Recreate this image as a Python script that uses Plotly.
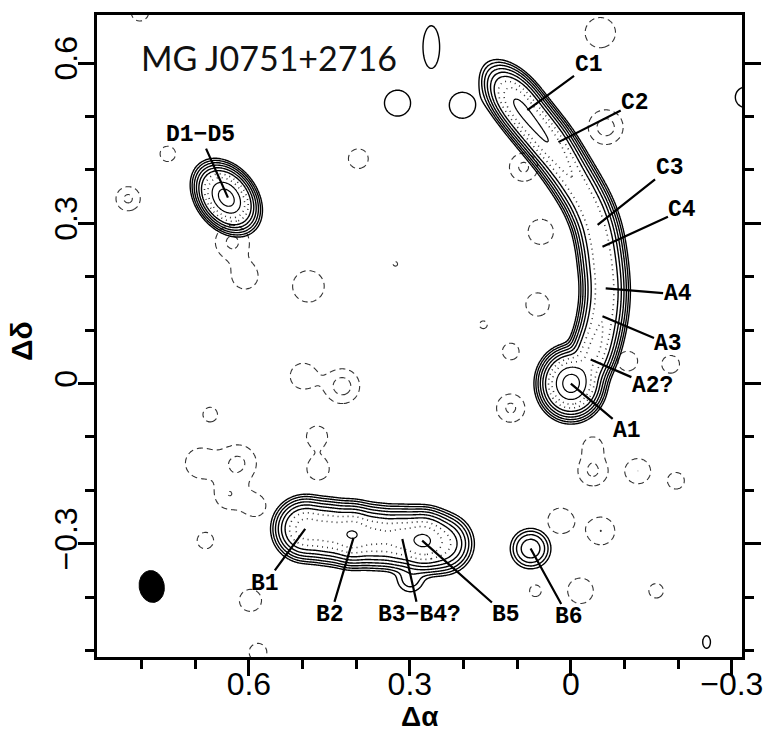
import numpy as np
import plotly.graph_objects as go

# ---------------- data ----------------
X_TICKS = [0.6, 0.3, 0.0, -0.3]
X_TICK_TEXT = ["0.6", "0.3", "0", "\u22120.3"]
Y_TICKS = [0.6, 0.3, 0.0, -0.3]
Y_TICK_TEXT = ["0.6", "0.3", "0", "\u22120.3"]
X_RANGE = [0.883, -0.319]
Y_RANGE = [-0.512, 0.690]

# arc A/C components (offset RA, offset Dec, peak)
ARC_X = [0.101, 0.072, 0.042, 0.014, -0.013, -0.037, -0.052, -0.059, -0.063, -0.059, -0.050, -0.037]
ARC_Y = [0.527, 0.489, 0.452, 0.411, 0.368, 0.322, 0.273, 0.224, 0.176, 0.129, 0.085, 0.047]
ARC_AMP = [230, 200, 185, 105, 82, 80, 80, 80, 80, 80, 85, 115]
ARC_S_ALONG = 0.028
ARC_S_PERP = 0.0155

# compact components: A1, D1-D5, B6
BLOB_X = [0.000, 0.642, 0.075]
BLOB_Y = [0.000, 0.348, -0.309]
BLOB_AMP = [700, 700, 14]
BLOB_SA = [0.019, 0.0225, 0.0165]
BLOB_SB = [0.021, 0.016, 0.0165]
BLOB_PA = [0, -53, 0]

# B arc components
BARC_X = [0.495, 0.452, 0.407, 0.362, 0.318, 0.275, 0.238, 0.299]
BARC_Y = [-0.272, -0.277, -0.283, -0.287, -0.290, -0.294, -0.300, -0.366]
BARC_AMP = [185, 160, 250, 130, 150, 275, 70, 3]
BARC_S = [0.020, 0.020, 0.020, 0.020, 0.020, 0.020, 0.020, 0.016]

# weak positive noise peaks
PN_X = [0.260, 0.323, 0.202, -0.326, -0.253]
PN_Y = [0.630, 0.525, 0.521, 0.536, -0.484]
PN_AMP = [1.6, 1.6, 1.6, 1.6, 1.5]
PN_SX = [0.016, 0.025, 0.025, 0.020, 0.008]
PN_SY = [0.041, 0.025, 0.025, 0.020, 0.013]

# negative noise peaks (depth)
NN_X = [0.825, 0.751, 0.396, 0.631, 0.607, 0.489, 0.327, 0.499, 0.426, 0.672, 0.691, 0.620,
        0.638, 0.473, 0.471, 0.681, 0.597, 0.583, 0.588, 0.803, 0.088, 0.056, -0.065, 0.062,
        0.163, 0.112, 0.112, -0.106, -0.186, -0.041, -0.041, -0.125, -0.196, 0.019, -0.056,
        -0.018, -0.159, 0.066, -0.055]
NN_Y = [0.346, 0.430, 0.421, 0.265, 0.201, 0.182, 0.224, 0.014, -0.005, -0.058, -0.149, -0.149,
        -0.210, -0.099, -0.160, -0.294, -0.406, -0.503, -0.229, 0.695, 0.405, 0.284, 0.480, 0.148,
        0.110, 0.060, -0.046, 0.042, 0.036, -0.117, -0.164, -0.164, -0.182, -0.257, -0.276,
        -0.388, -0.388, -0.388, 0.657]
NN_AMP = [2.2, 1.5, 1.8, 2.2, 1.8, 2.0, 1.2, 1.8, 2.5, 1.5, 1.8, 2.2,
          1.8, 1.6, 1.7, 1.5, 1.7, 1.6, 1.6, 1.5, 2.2, 2.0, 2.5, 1.8,
          1.3, 1.6, 2.2, 1.8, 1.6, 1.6, 2.2, 2.0, 1.6, 1.8, 2.0,
          1.8, 1.5, 1.5, 2.0]
NN_S = [0.018, 0.016, 0.017, 0.025, 0.022, 0.025, 0.007, 0.022, 0.024, 0.015, 0.025, 0.027,
        0.022, 0.020, 0.020, 0.017, 0.020, 0.017, 0.020, 0.018, 0.021, 0.020, 0.024, 0.020,
        0.010, 0.016, 0.021, 0.017, 0.017, 0.017, 0.022, 0.020, 0.016, 0.022, 0.022,
        0.022, 0.015, 0.012, 0.024]

# restoring beam: centre, semi-axes, position angle
BEAM_X, BEAM_Y = 0.781, -0.380
BEAM_A, BEAM_B, BEAM_PA = 0.0300, 0.0233, 100

# component labels: text, target (x, y), text position (x, y)
LABELS = ["C1", "C2", "C3", "C4", "A4", "A3", "A2?", "A1", "D1\u2212D5", "B1", "B2", "B3\u2212B4?", "B5", "B6"]
LAB_X = [0.081, 0.023, -0.050, -0.059, -0.065, -0.059, -0.037, 0.000, 0.639, 0.495, 0.405, 0.314, 0.277, 0.075]
LAB_Y = [0.512, 0.452, 0.297, 0.256, 0.178, 0.126, 0.045, 0.000, 0.348, -0.272, -0.289, -0.291, -0.294, -0.309]
LAB_TX = [-0.033, -0.120, -0.184, -0.208, -0.199, -0.182, -0.152, -0.105, 0.691, 0.570, 0.448, 0.282, 0.120, 0.004]
LAB_TY = [0.596, 0.525, 0.404, 0.325, 0.167, 0.074, -0.005, -0.089, 0.465, -0.375, -0.434, -0.434, -0.434, -0.438]

TITLE = "MG J0751+2716"

# ---------------- model image ----------------
xs = np.linspace(-0.33, 0.90, 620)
ys = np.linspace(-0.53, 0.71, 620)
X, Y = np.meshgrid(xs, ys)


def gauss(x0, y0, amp, sa, sb, pa_deg):
    u = -(X - x0)
    v = Y - y0
    t = np.deg2rad(pa_deg)
    a = u * np.cos(t) + v * np.sin(t)
    b = -u * np.sin(t) + v * np.cos(t)
    return amp * np.exp(-0.5 * (a ** 2 / sa ** 2 + b ** 2 / sb ** 2))


pos = np.zeros_like(X)
ax_ = np.array(ARC_X)
ay_ = np.array(ARC_Y)
arc_pa = np.degrees(np.arctan2(np.gradient(ay_), -np.gradient(ax_)))
for x0, y0, a0, pa in zip(ARC_X, ARC_Y, ARC_AMP, arc_pa):
    pos += gauss(x0, y0, a0, ARC_S_ALONG, ARC_S_PERP, pa)
for x0, y0, a0, sa, sb, pa in zip(BLOB_X, BLOB_Y, BLOB_AMP, BLOB_SA, BLOB_SB, BLOB_PA):
    pos += gauss(x0, y0, a0, sa, sb, pa)
for x0, y0, a0, s in zip(BARC_X, BARC_Y, BARC_AMP, BARC_S):
    pos += gauss(x0, y0, a0, s, s, 0)
for x0, y0, a0, sx, sy in zip(PN_X, PN_Y, PN_AMP, PN_SX, PN_SY):
    pos += gauss(x0, y0, a0, sx, sy, 0)

neg = np.zeros_like(X)
for x0, y0, a0, s in zip(NN_X, NN_Y, NN_AMP, NN_S):
    neg += gauss(x0, y0, a0, s, s, 0)

zpos = np.log2(np.maximum(pos, 1e-6))
zneg = np.log2(np.maximum(neg, 1e-6))

fig = go.Figure()


def contour(z, start, end, dash, width, color):
    fig.add_trace(go.Contour(
        x=xs, y=ys, z=z, autocontour=False,
        contours=dict(start=start, end=end, size=1, coloring="none"),
        line=dict(color=color, width=width, dash=dash, smoothing=1.0),
        showscale=False, hoverinfo="skip", showlegend=False))


contour(zneg, 0, 2, "6px,4px", 1.1, "#333333")
contour(zpos, 0, 5, "solid", 1.4, "black")
contour(zpos, 6, 7, "1px,4px", 1.6, "#333333")
contour(zpos, 8, 12, "solid", 1.2, "black")

# beam
t = np.linspace(0, 2 * np.pi, 80)
pa = np.deg2rad(BEAM_PA)
bu = BEAM_A * np.cos(t) * np.cos(pa) - BEAM_B * np.sin(t) * np.sin(pa)
bv = BEAM_A * np.cos(t) * np.sin(pa) + BEAM_B * np.sin(t) * np.cos(pa)
fig.add_trace(go.Scatter(x=BEAM_X - bu, y=BEAM_Y + bv, mode="lines", fill="toself",
                         fillcolor="black", line=dict(color="black", width=1),
                         hoverinfo="skip", showlegend=False))

annotations = []
for txt, x, y, tx, ty in zip(LABELS, LAB_X, LAB_Y, LAB_TX, LAB_TY):
    annotations.append(dict(
        x=x, y=y, xref="x", yref="y", ax=tx, ay=ty, axref="x", ayref="y",
        text="<b>" + txt + "</b>", showarrow=True, arrowhead=0, arrowwidth=2.2,
        arrowcolor="black", standoff=0, startstandoff=0, borderpad=0,
        font=dict(family="Liberation Mono", size=23, color="black")))

annotations.append(dict(x=0.065, y=0.934, xref="paper", yref="paper", xanchor="left",
                        yanchor="middle", text=TITLE, showarrow=False,
                        font=dict(family="Lato", size=34, color="#111111")))
annotations.append(dict(x=0.5, y=-0.092, xref="paper", yref="paper", xanchor="center",
                        yanchor="middle", text="<b>\u0394\u03b1</b>", showarrow=False,
                        font=dict(family="Liberation Sans", size=28, color="black")))
annotations.append(dict(x=-0.118, y=0.492, xref="paper", yref="paper", xanchor="center",
                        yanchor="middle", text="<b>\u0394\u03b4</b>", showarrow=False, textangle=-90,
                        font=dict(family="Liberation Sans", size=30, color="black")))

axis_common = dict(showgrid=False, zeroline=False, showline=True, linecolor="black", linewidth=2.5,
                   ticks="outside", ticklen=16, tickwidth=2.5, tickcolor="black",
                   tickfont=dict(family="Liberation Sans", size=32, color="black"),
                   minor=dict(dtick=0.1, ticks="outside", ticklen=9, tickwidth=2.5, tickcolor="black"))

fig.update_layout(
    width=780, height=748,
    margin=dict(l=97, r=38, t=13, b=91),
    paper_bgcolor="white", plot_bgcolor="white",
    xaxis=dict(range=X_RANGE, tickvals=X_TICKS, ticktext=X_TICK_TEXT, mirror=True,
               ticklabelstandoff=-19, **axis_common),
    yaxis=dict(range=Y_RANGE, tickvals=Y_TICKS, ticktext=Y_TICK_TEXT, mirror="ticks", tickangle=-90,
               ticklabelstandoff=-12, **axis_common),
    annotations=annotations,
)

fig.write_html("out.html")
